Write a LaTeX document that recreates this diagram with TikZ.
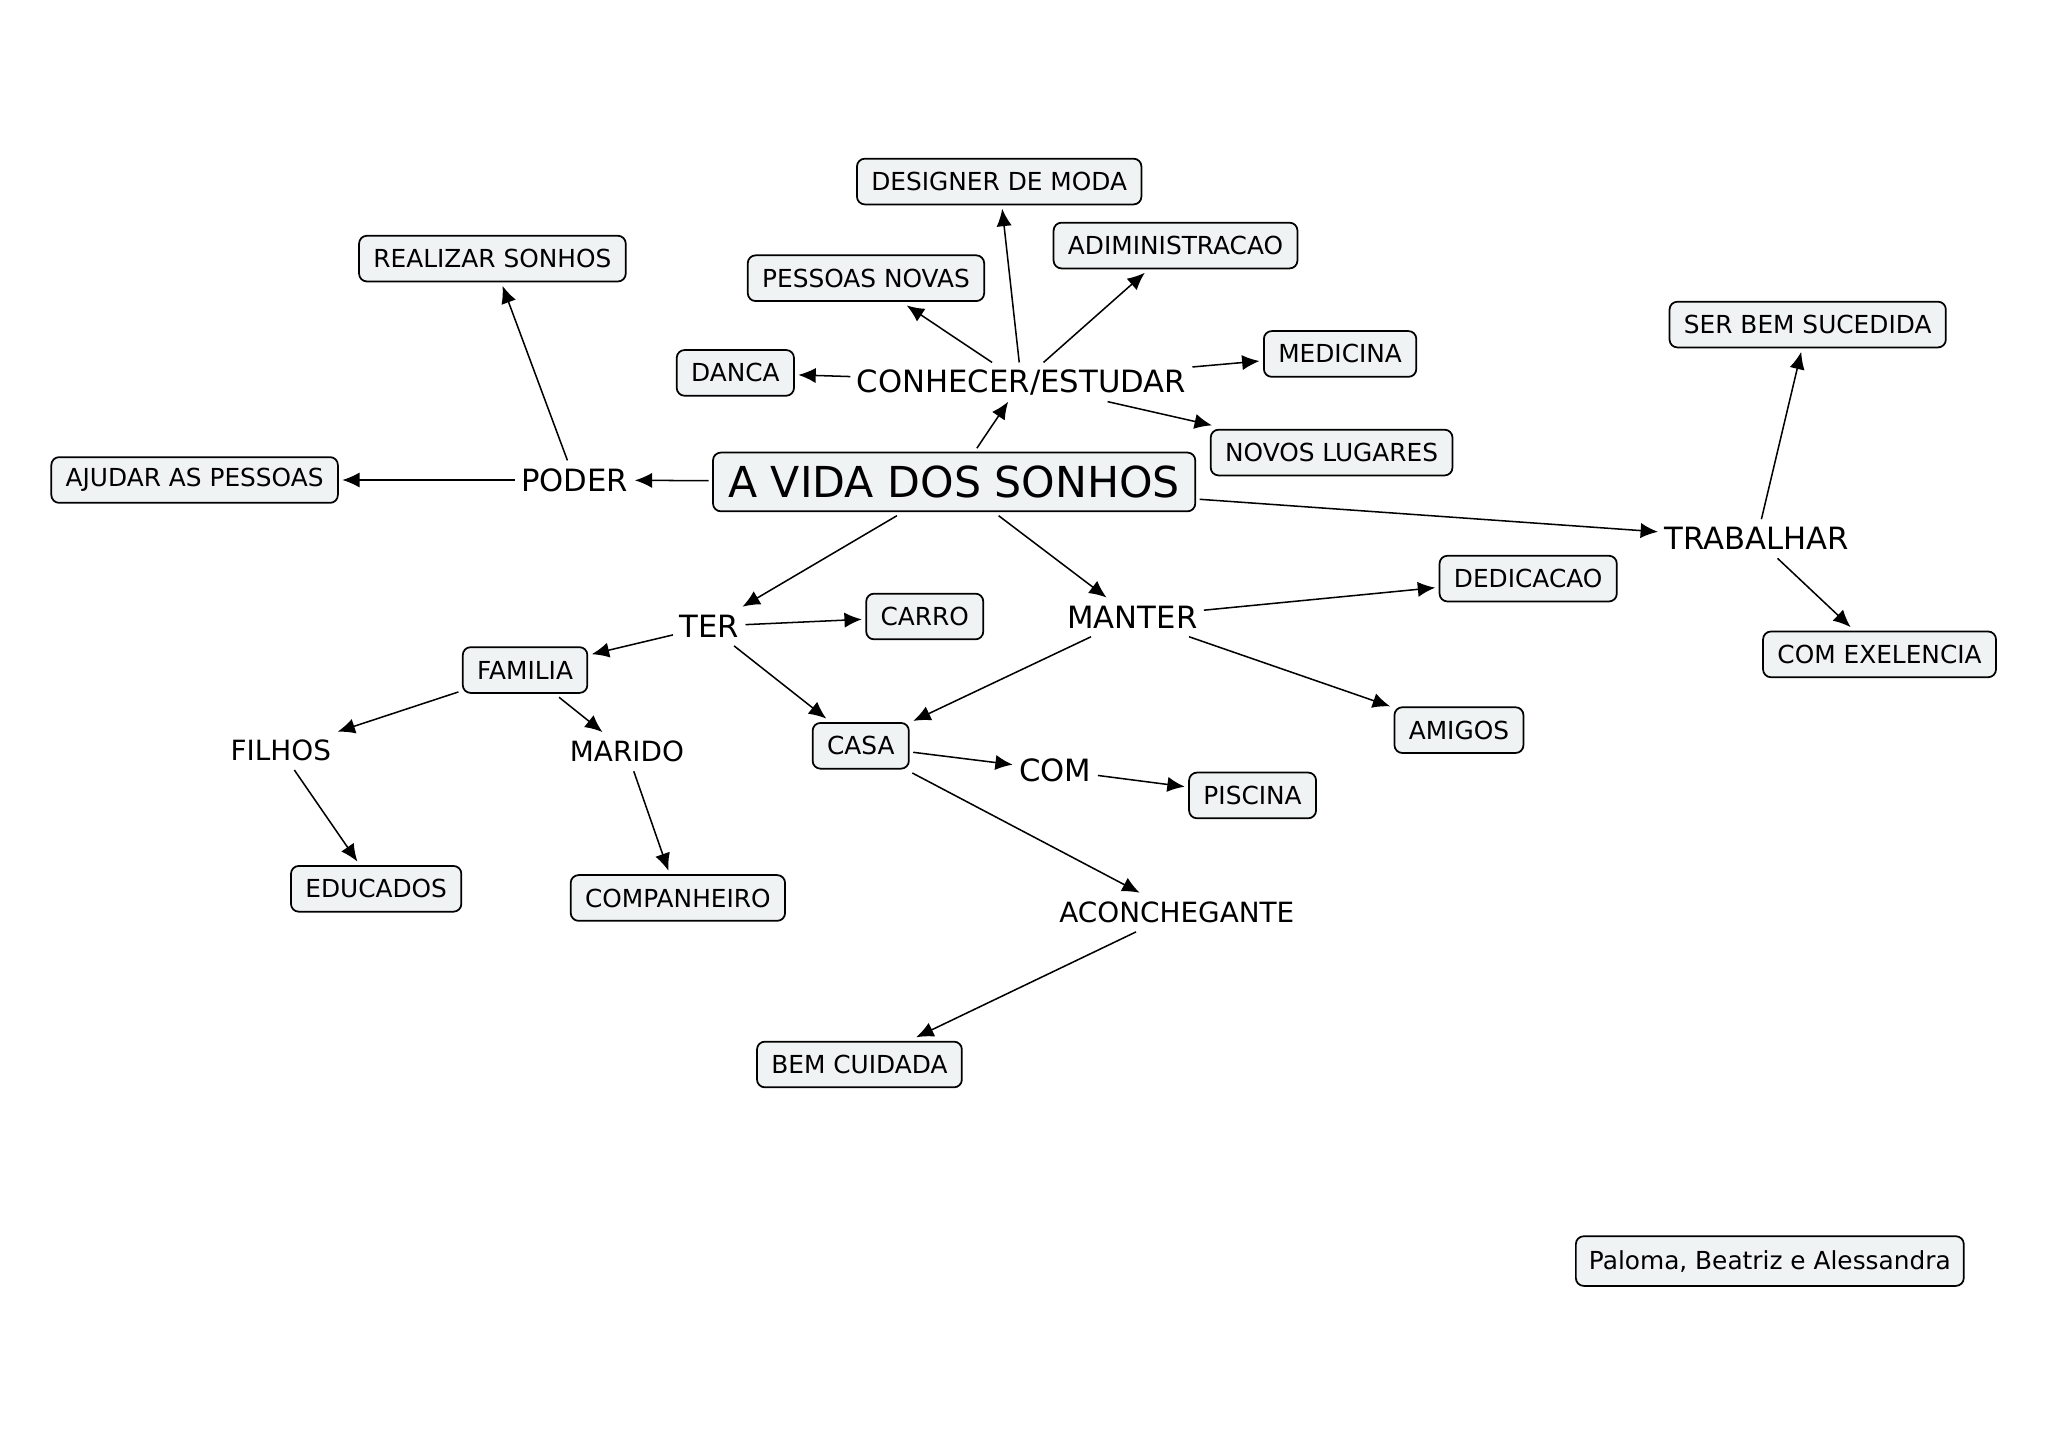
\documentclass[tikz,border=0pt]{standalone}
\usepackage{fontspec}
\setmainfont{DejaVu Sans}
\usetikzlibrary{arrows.meta}
\definecolor{boxfill}{RGB}{240,243,243}
\begin{document}
\begin{tikzpicture}[x=0.6pt,y=-0.6pt,
  box/.style={draw=black, line width=0.8pt, fill=boxfill, rounded corners=3.6pt,
    minimum height=21pt, inner xsep=6.6pt, inner ysep=0pt, outer sep=2pt,
    font=\fontsize{11.4}{13}\selectfont},
  mainbox/.style={box, minimum height=27pt, inner xsep=7pt, font=\fontsize{19.6}{22}\selectfont},
  signbox/.style={box, minimum height=22.8pt, inner xsep=6pt},
  lbl/.style={inner xsep=3pt, inner ysep=0pt, minimum height=18pt, outer sep=0pt,
    font=\fontsize{14.1}{16}\selectfont},
  lblsm/.style={lbl, font=\fontsize{12.8}{15}\selectfont},
  arr/.style={-{Latex[length=8pt,width=7pt]}, line width=0.7pt}
]
\useasboundingbox (0,0) rectangle (1568,1108);

% nodes
\node[mainbox] (main) at (730.5,369) {A VIDA DOS SONHOS};
\node[lbl] (con) at (782,292.5) {CONHECER/ESTUDAR};
\node[box] (des) at (765,139) {DESIGNER DE MODA};
\node[box] (adm) at (900,188) {ADIMINISTRACAO};
\node[box] (pes) at (663,213) {PESSOAS NOVAS};
\node[box] (dan) at (563,285.5) {DANCA};
\node[box] (med) at (1026,271) {MEDICINA};
\node[box] (nov) at (1019.5,346.5) {NOVOS LUGARES};
\node[box] (rea) at (377,198) {REALIZAR SONHOS};
\node[box] (aju) at (149,367.5) {AJUDAR AS PESSOAS};
\node[lbl] (pod) at (440,367.5) {PODER};
\node[lbl] (tra) at (1345,412.5) {TRABALHAR};
\node[box] (ser) at (1384,248.5) {SER BEM SUCEDIDA};
\node[box] (exe) at (1439,501) {COM EXELENCIA};
\node[lbl] (man) at (867,472.5) {MANTER};
\node[box] (ded) at (1170,443) {DEDICACAO};
\node[box] (ami) at (1117,559) {AMIGOS};
\node[lbl] (ter) at (543,479.5) {TER};
\node[box] (car) at (708,472) {CARRO};
\node[box] (fam) at (402,513) {FAMILIA};
\node[lblsm] (fil) at (215,574.5) {FILHOS};
\node[lblsm] (mar) at (480,575.5) {MARIDO};
\node[box] (edu) at (288,680.5) {EDUCADOS};
\node[box] (com) at (519,687.5) {COMPANHEIRO};
\node[box] (cas) at (659,571) {CASA};
\node[lbl] (cm) at (808,589.5) {COM};
\node[box] (pis) at (959,609) {PISCINA};
\node[lblsm] (aco) at (901,698.5) {ACONCHEGANTE};
\node[box] (bem) at (658,815) {BEM CUIDADA};
\node[signbox] (sig) at (1355,965.5) {Paloma, Beatriz e Alessandra};

% connectors
\draw[arr] (main) -- (con);
\draw[arr] (main) -- (pod);
\draw[arr] (pod) -- (aju);
\draw[arr] (pod) -- (rea);
\draw[arr] (con) -- (des);
\draw[arr] (con) -- (adm);
\draw[arr] (con) -- (pes);
\draw[arr] (con) -- (dan);
\draw[arr] (con) -- (med);
\draw[arr] (con) -- (nov);
\draw[arr] (main) -- (tra);
\draw[arr] (tra) -- (ser);
\draw[arr] (tra) -- (exe);
\draw[arr] (main) -- (man);
\draw[arr] (man) -- (ded);
\draw[arr] (man) -- (ami);
\draw[arr] (man) -- (cas);
\draw[arr] (main) -- (ter);
\draw[arr] (ter) -- (car);
\draw[arr] (ter) -- (fam);
\draw[arr] (ter) -- (cas);
\draw[arr] (fam) -- (fil);
\draw[arr] (fam) -- (mar);
\draw[arr] (fil) -- (edu);
\draw[arr] (mar) -- (com);
\draw[arr] (cas) -- (cm);
\draw[arr] (cm) -- (pis);
\draw[arr] (cas) -- (aco);
\draw[arr] (aco) -- (bem);
\end{tikzpicture}
\end{document}
